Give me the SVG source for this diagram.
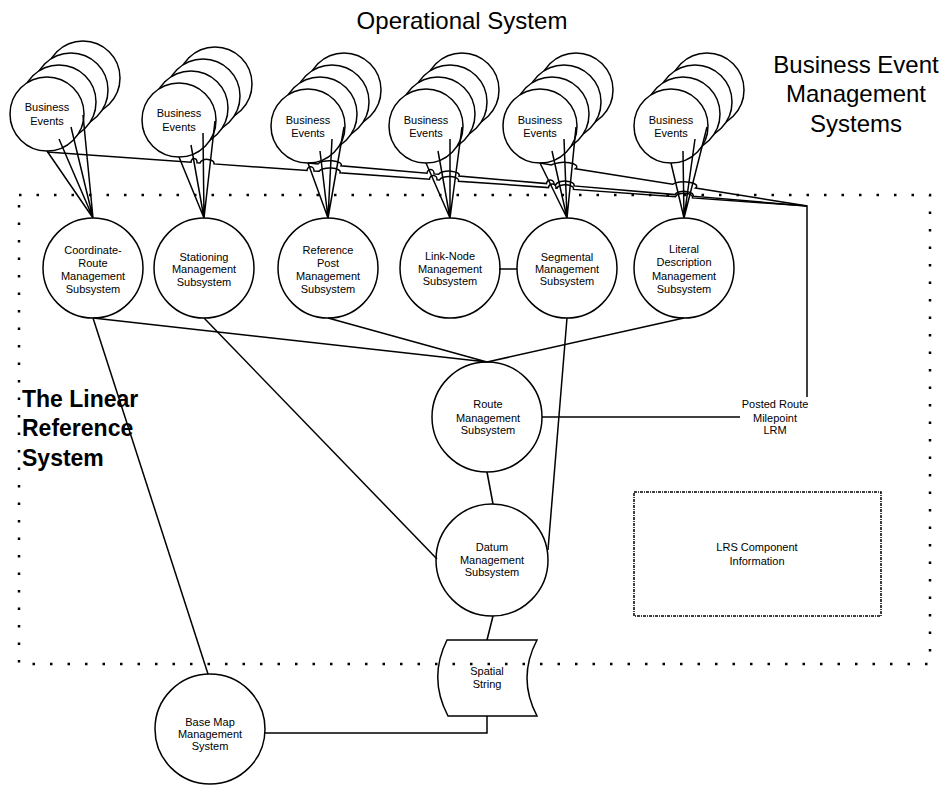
<svg xmlns="http://www.w3.org/2000/svg" width="943" height="786" viewBox="0 0 943 786">
<style>
.n{fill:#fff;stroke:#000;stroke-width:1.5}
.c{fill:none;stroke:#000;stroke-width:1.5}
.t{font-family:"Liberation Sans",Arial,sans-serif;font-size:11px;text-anchor:middle;fill:#000}
.big{font-family:"Liberation Sans",Arial,sans-serif;font-size:24px;text-anchor:middle;fill:#000}
.bold{font-family:"Liberation Sans",Arial,sans-serif;font-size:23px;font-weight:bold;fill:#000}
.dots{fill:none;stroke:#000;stroke-width:2.5;stroke-dasharray:2.5 15}
.dd{fill:none;stroke:#000;stroke-width:1.5;stroke-dasharray:3 1 1 1}
</style>
<rect width="943" height="786" fill="#fff"/>

<text class="big" x="462" y="29">Operational System</text>
<text class="big" x="856" y="73">Business Event</text>
<text class="big" x="856" y="102">Management</text>
<text class="big" x="856" y="132">Systems</text>
<text class="bold" x="22" y="407">The Linear</text>
<text class="bold" x="22" y="436">Reference</text>
<text class="bold" x="22" y="466">System</text>

<g id="be1">
<circle class="n" cx="83" cy="78" r="37"/><circle class="n" cx="71" cy="90" r="37"/><circle class="n" cx="59" cy="102" r="37"/><circle class="n" cx="47" cy="114" r="37"/>
<text class="t" x="47" y="111">Business</text><text class="t" x="47" y="125">Events</text>
</g>
<g id="be2">
<circle class="n" cx="215" cy="84" r="37"/><circle class="n" cx="203" cy="96" r="37"/><circle class="n" cx="191" cy="108" r="37"/><circle class="n" cx="179" cy="120" r="37"/>
<text class="t" x="179" y="117">Business</text><text class="t" x="179" y="131">Events</text>
</g>
<g id="be3">
<circle class="n" cx="344" cy="90" r="37"/><circle class="n" cx="332" cy="102" r="37"/><circle class="n" cx="320" cy="114" r="37"/><circle class="n" cx="308" cy="126" r="37"/>
<text class="t" x="308" y="124">Business</text><text class="t" x="308" y="137">Events</text>
</g>
<g id="be4">
<circle class="n" cx="462" cy="90" r="37"/><circle class="n" cx="450" cy="102" r="37"/><circle class="n" cx="438" cy="114" r="37"/><circle class="n" cx="426" cy="126" r="37"/>
<text class="t" x="426" y="124">Business</text><text class="t" x="426" y="137">Events</text>
</g>
<g id="be5">
<circle class="n" cx="576" cy="90" r="37"/><circle class="n" cx="564" cy="102" r="37"/><circle class="n" cx="552" cy="114" r="37"/><circle class="n" cx="540" cy="126" r="37"/>
<text class="t" x="540" y="124">Business</text><text class="t" x="540" y="137">Events</text>
</g>
<g id="be6">
<circle class="n" cx="707" cy="90" r="37"/><circle class="n" cx="695" cy="102" r="37"/><circle class="n" cx="683" cy="114" r="37"/><circle class="n" cx="671" cy="126" r="37"/>
<text class="t" x="671" y="124">Business</text><text class="t" x="671" y="137">Events</text>
</g>

<g id="coord">
<circle class="n" cx="93" cy="268" r="50"/>
<text class="t" x="93" y="254">Coordinate-</text><text class="t" x="93" y="267">Route</text><text class="t" x="93" y="280">Management</text><text class="t" x="93" y="293">Subsystem</text>
</g>
<g id="stationing">
<circle class="n" cx="204" cy="268" r="50"/>
<text class="t" x="204" y="261">Stationing</text><text class="t" x="204" y="273">Management</text><text class="t" x="204" y="286">Subsystem</text>
</g>
<g id="refpost">
<circle class="n" cx="328" cy="268" r="50"/>
<text class="t" x="328" y="254">Reference</text><text class="t" x="328" y="267">Post</text><text class="t" x="328" y="280">Management</text><text class="t" x="328" y="293">Subsystem</text>
</g>
<g id="linknode">
<circle class="n" cx="450" cy="268" r="50"/>
<text class="t" x="450" y="260">Link-Node</text><text class="t" x="450" y="273">Management</text><text class="t" x="450" y="285">Subsystem</text>
</g>
<g id="segmental">
<circle class="n" cx="567" cy="268" r="50"/>
<text class="t" x="567" y="261">Segmental</text><text class="t" x="567" y="273">Management</text><text class="t" x="567" y="285">Subsystem</text>
</g>
<g id="literal">
<circle class="n" cx="684" cy="268" r="50"/>
<text class="t" x="684" y="253">Literal</text><text class="t" x="684" y="266">Description</text><text class="t" x="684" y="280">Management</text><text class="t" x="684" y="293">Subsystem</text>
</g>
<g id="route">
<circle class="n" cx="487" cy="417" r="55"/>
<text class="t" x="488" y="408">Route</text><text class="t" x="488" y="422">Management</text><text class="t" x="488" y="434">Subsystem</text>
</g>
<g id="datum">
<circle class="n" cx="492" cy="560" r="56"/>
<text class="t" x="492" y="551">Datum</text><text class="t" x="492" y="564">Management</text><text class="t" x="492" y="576">Subsystem</text>
</g>
<g id="spatial">
<path class="c" d="M447,640 L537,640 Q517,678 537,716 L448,716 Q428,678 447,640 Z"/>
<text class="t" x="487" y="675">Spatial</text><text class="t" x="487" y="688">String</text>
</g>
<g id="basemap">
<circle class="n" cx="210" cy="729" r="55"/>
<text class="t" x="210" y="726">Base Map</text><text class="t" x="210" y="738">Management</text><text class="t" x="210" y="750">System</text>
</g>
<g id="lrm">
<text class="t" x="775" y="408">Posted Route</text><text class="t" x="775" y="422">Milepoint</text><text class="t" x="775" y="434">LRM</text>
</g>
<g id="lrsinfo">
<rect class="dd" x="634" y="492" width="247" height="124"/>
<text class="t" x="757" y="551">LRS Component</text><text class="t" x="757" y="565">Information</text>
</g>

<g id="connectors" class="c">
<path d="M47,151 L93,218 M59,139 L93,218 M71,127 L93,218 M83,115 L93,218"/>
<path d="M179,157 L204,218 M191,145 L204,218 M203,133 L204,218 M215,121 L204,218"/>
<path d="M308,163 L328,218 M320,151 L328,218 M332,139 L328,218 M344,127 L328,218"/>
<path d="M426,163 L450,218 M438,151 L450,218 M450,139 L450,218 M462,127 L450,218"/>
<path d="M540,163 L567,218 M552,151 L567,218 M564,139 L567,218 M576,127 L567,218"/>
<path d="M671,163 L684,218 M683,151 L684,218 M695,139 L684,218 M707,127 L684,218"/>
<path d="M47,152 L191,162.2 A3 4 0 0 1 197,162.7 L200,162.9 A7 4 0 0 1 214,163.9 L307,170.5 A3.5 4 0 0 1 314,171 L319,171.3 A10.5 4 0 0 1 340,172.8 L429.5,179.2 A3.75 4 0 0 1 437,179.7 L439.5,179.9 A9.5 4 0 0 1 458.5,181.2 L548.5,187.6 A3.75 4 0 0 1 556,188.2 L557,188.2 A8.25 4 0 0 1 573.5,189.4 L675.5,196.7 A8.5 4 0 0 1 692.5,197.9 L807,206"/>
<path d="M308,163 L318,163.9 A11.5 4 0 0 1 341,165.8 L427,173.3 A3.5 4 0 0 1 434,173.9 L438.5,174.3 A10.25 4 0 0 1 459,176 L546.5,183.6 A3.75 4 0 0 1 554,184.2 L556,184.4 A9 4 0 0 1 574,185.9 L675,194.6 A9 4 0 0 1 693,196.2 L807,206"/>
<path d="M540,163 L551.5,164.9 A12 4 0 0 1 575.5,168.7 L672.5,184.3 A11.5 4 0 0 1 695.5,188 L807,206 L807,397"/>
<path d="M499,269 L517,269"/>
<path d="M93,318 L487,362 M328,318 L487,362 M684,318 L487,362"/>
<path d="M93,318 L208,674"/>
<path d="M204,318 L437,559"/>
<path d="M567,318 L548,550"/>
<path d="M487,472 L493,504"/>
<path d="M493,616 L487,640"/>
<path d="M487,716 L487,733 L265,733"/>
<path d="M542,417 L740,417"/>
</g>

<rect class="dots" x="19" y="195" width="911" height="469"/>
</svg>
